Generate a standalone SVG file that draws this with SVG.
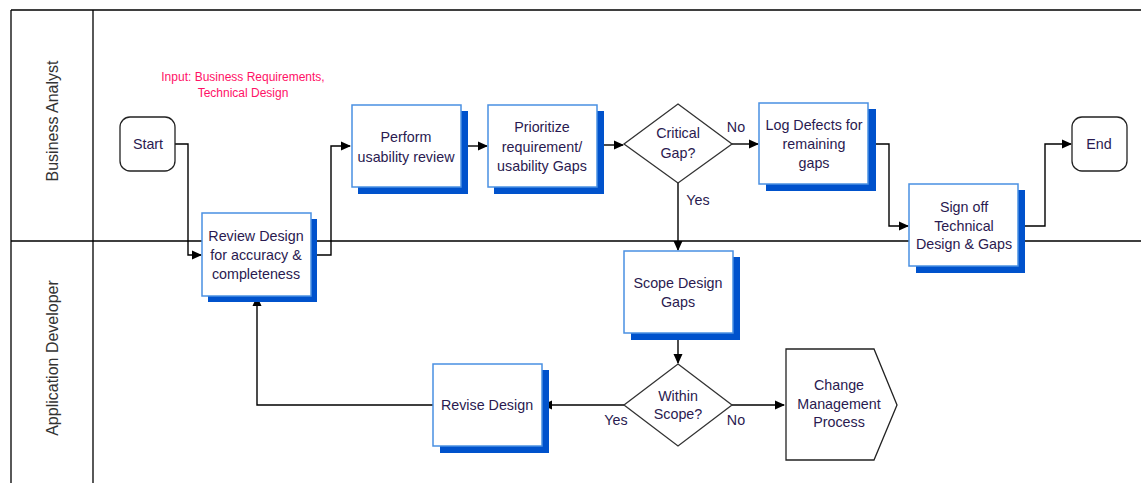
<svg xmlns="http://www.w3.org/2000/svg" width="1141" height="483" viewBox="0 0 1141 483">
<defs>
<marker id="ah" markerWidth="10" markerHeight="10" refX="9" refY="5" orient="auto" markerUnits="userSpaceOnUse">
<path d="M0,0.5 L10,5 L0,9.5 Z" fill="#000"/>
</marker>
</defs>
<style>
.lane{stroke:#000;stroke-width:1.3;fill:none}
.box{fill:#fff;stroke:#4a90e2;stroke-width:1.5}
.shadow{fill:#0052cc}
.term{fill:#fff;stroke:#222;stroke-width:1.3}
.dia{fill:#fff;stroke:#333;stroke-width:1.3}
.t{font-family:"Liberation Sans",Arial,sans-serif;font-size:14.3px;fill:#2a1a50;text-anchor:middle;dominant-baseline:central}
.lt{font-family:"Liberation Sans",Arial,sans-serif;font-size:16px;fill:#333;text-anchor:middle;dominant-baseline:central}
.in{font-family:"Liberation Sans",Arial,sans-serif;font-size:12px;fill:#ff1166;text-anchor:middle;dominant-baseline:central}
.c{stroke:#000;stroke-width:1.4;fill:none}
</style>
<rect width="1141" height="483" fill="#fff"/>
<g id="lanes">
<path class="lane" d="M11,10 H1141 M11,10 V483 M93,10 V483 M11,241 H1141"/>
<text class="lt" transform="translate(52,121) rotate(-90)">Business Analyst</text>
<text class="lt" transform="translate(52,358) rotate(-90)">Application Developer</text>
</g>
<g id="input-note">
<text class="in" x="243" y="77">Input: Business Requirements,</text>
<text class="in" x="243" y="93">Technical Design</text>
</g>
<g id="connectors">
<path class="c" d="M175,144 H188 V255 H201" marker-end="url(#ah)"/>
<path class="c" d="M311,255 H331 V146 H350" marker-end="url(#ah)"/>
<path class="c" d="M461,146 H487" marker-end="url(#ah)"/>
<path class="c" d="M597,145 H623" marker-end="url(#ah)"/>
<path class="c" d="M732,144 H758" marker-end="url(#ah)"/>
<path class="c" d="M868,144 H889 V226 H908" marker-end="url(#ah)"/>
<path class="c" d="M1018,226 H1045 V144 H1071" marker-end="url(#ah)"/>
<path class="c" d="M678,183 V250" marker-end="url(#ah)"/>
<path class="c" d="M678,333 V363" marker-end="url(#ah)"/>
<path class="c" d="M624,405 H543" marker-end="url(#ah)"/>
<path class="c" d="M732,405 H784" marker-end="url(#ah)"/>
<path class="c" d="M433,405 H257 V297" marker-end="url(#ah)"/>
<text class="t" x="736" y="127">No</text>
<text class="t" x="698" y="200">Yes</text>
<text class="t" x="616" y="420">Yes</text>
<text class="t" x="736" y="420">No</text>
</g>
<g id="start">
<rect class="term" x="120" y="117" width="55" height="54" rx="10"/>
<text class="t" x="148" y="144">Start</text>
</g>
<g id="review-design">
<rect class="shadow" x="208" y="219" width="109" height="83"/>
<rect class="box" x="202" y="213" width="109" height="83"/>
<text class="t" x="256" y="236">Review Design</text>
<text class="t" x="256" y="255">for accuracy &amp;</text>
<text class="t" x="256" y="274">completeness</text>
</g>
<g id="perform-review">
<rect class="shadow" x="358" y="111" width="110" height="83"/>
<rect class="box" x="352" y="105" width="109" height="82"/>
<text class="t" x="406" y="137">Perform</text>
<text class="t" x="406" y="157">usability review</text>
</g>
<g id="prioritize">
<rect class="shadow" x="494" y="111" width="110" height="83"/>
<rect class="box" x="488" y="105" width="109" height="82"/>
<text class="t" x="542" y="127">Prioritize</text>
<text class="t" x="542" y="147">requirement/</text>
<text class="t" x="542" y="166">usability Gaps</text>
</g>
<g id="critical-gap">
<polygon class="dia" points="678,104 732,144 678,183 624,144"/>
<text class="t" x="678" y="133">Critical</text>
<text class="t" x="678" y="153">Gap?</text>
</g>
<g id="log-defects">
<rect class="shadow" x="766" y="109" width="110" height="82"/>
<rect class="box" x="759" y="103" width="109" height="81"/>
<text class="t" x="814" y="125">Log Defects for</text>
<text class="t" x="814" y="144">remaining</text>
<text class="t" x="814" y="163">gaps</text>
</g>
<g id="sign-off">
<rect class="shadow" x="916" y="190" width="109" height="83"/>
<rect class="box" x="909" y="184" width="109" height="82"/>
<text class="t" x="964" y="207">Sign off</text>
<text class="t" x="964" y="226">Technical</text>
<text class="t" x="964" y="244">Design &amp; Gaps</text>
</g>
<g id="end">
<rect class="term" x="1072" y="117" width="55" height="54" rx="10"/>
<text class="t" x="1099" y="144">End</text>
</g>
<g id="scope-design-gaps">
<rect class="shadow" x="631" y="257" width="109" height="83"/>
<rect class="box" x="624" y="251" width="109" height="82"/>
<text class="t" x="678" y="283">Scope Design</text>
<text class="t" x="678" y="302">Gaps</text>
</g>
<g id="within-scope">
<polygon class="dia" points="678,364 732,405 678,446 624,405"/>
<text class="t" x="678" y="396">Within</text>
<text class="t" x="678" y="414">Scope?</text>
</g>
<g id="revise-design">
<rect class="shadow" x="440" y="370" width="109" height="83"/>
<rect class="box" x="433" y="364" width="109" height="82"/>
<text class="t" x="487" y="405">Revise Design</text>
</g>
<g id="change-management">
<polygon class="term" points="786,349 874,349 897,405 874,460 786,460"/>
<text class="t" x="839" y="385">Change</text>
<text class="t" x="839" y="404">Management</text>
<text class="t" x="839" y="422">Process</text>
</g>
</svg>
